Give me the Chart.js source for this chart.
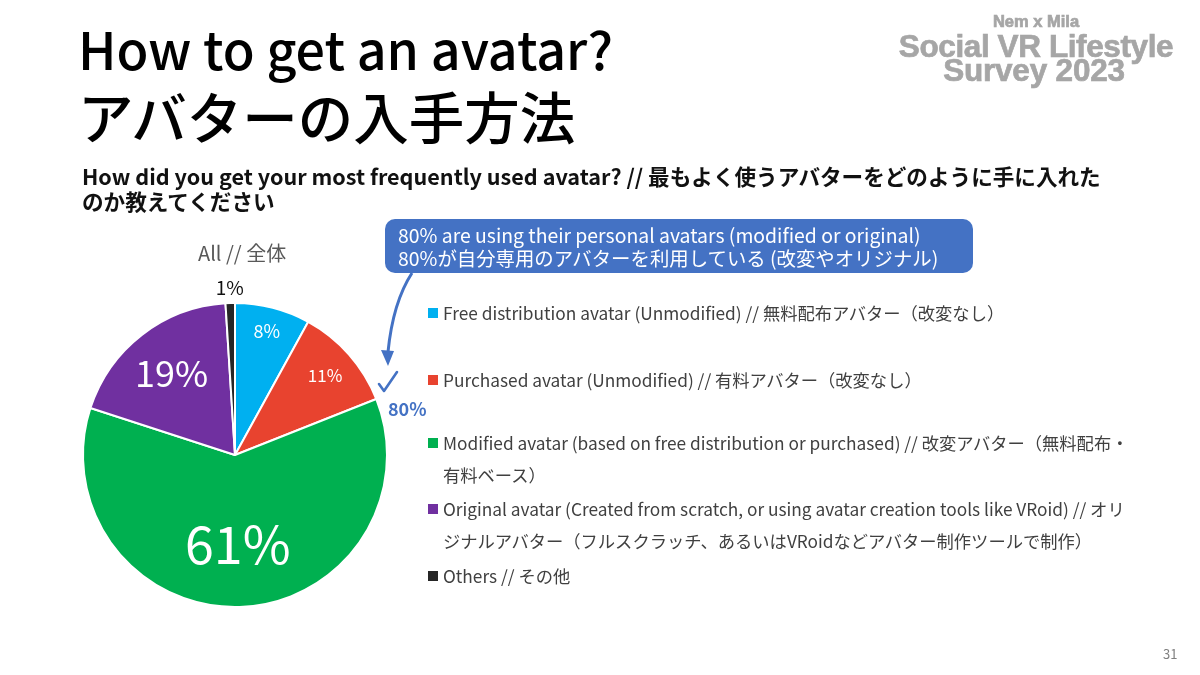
<!DOCTYPE html>
<html>
<head>
<meta charset="utf-8">
<script src="https://cdn.jsdelivr.net/npm/chart.js@4.4.0/dist/chart.umd.min.js"></script>
<style>
    html, body { margin: 0; padding: 0; background: #fff; }
    body { width: 1200px; height: 675px; position: relative; overflow: hidden;
           font-family: "Noto Sans CJK JP", "Noto Sans", sans-serif; }
    #pieChart { position: absolute; left: 0; top: 0; }
    .abs { position: absolute; white-space: nowrap; }
    .logo { position: absolute; width: 320px; left: 876px; text-align: center; color: #a6a6a6;
            font-family: "Liberation Sans", Arial, sans-serif; font-weight: bold; white-space: nowrap;
            -webkit-text-stroke: 0.7px #a6a6a6; }
    .callout { position: absolute; left: 385px; top: 219px; width: 588px; height: 54px;
               background: #4472c4; border-radius: 10px; color: #fff; font-size: 19.4px;
               line-height: 23px; box-sizing: border-box; padding: 4px 0 0 13px; }
    .leg-item { position: absolute; left: 428px; color: #404040; font-size: 17.3px; line-height: 32px; }
    .leg-item .box { position: absolute; left: 0; top: 11px; width: 10px; height: 10px; }
    .leg-item .txt { margin-left: 15px; white-space: nowrap; }
</style>
</head>
<body>
<canvas id="pieChart" width="1200" height="675"></canvas>

<div class="abs" style="left:78px; top:13px; font-size:52px; line-height:70px; font-weight:500; color:#000;">How to get an avatar?</div>
<div class="abs" style="left:78px; top:80px; font-size:55.5px; line-height:70px; font-weight:500; color:#000;">アバターの入手方法</div>
<div class="abs" style="left:82px; top:163px; font-size:21.6px; line-height:25px; font-weight:bold; color:#111;">How did you get your most frequently used avatar? // 最もよく使うアバターをどのように手に入れた<br>のか教えてください</div>

<div class="logo" style="top:10px; font-size:16.5px; line-height:22px;">Nem x Mila</div>
<div class="logo" style="top:30px; font-size:31.5px; line-height:32px; letter-spacing:-0.4px;">Social VR Lifestyle</div>
<div class="logo" style="top:54px; font-size:31.5px; line-height:32px; letter-spacing:-0.2px; left:874px;">Survey 2023</div>

<div class="abs" style="left:198px; top:239px; font-size:20px; line-height:28px; color:#595959;">All // 全体</div>

<div class="callout">80% are using their personal avatars (modified or original)<br>80%が自分専用のアバターを利用している (改変やオリジナル)</div>

<svg class="abs" style="left:0; top:0;" width="1200" height="675">
    <path d="M412,273 Q393,302 388,352" fill="none" stroke="#4472c4" stroke-width="3"/>
    <path d="M381,350 L388,366 L394,351 Z" fill="#4472c4"/>
    <path d="M379,384 L384,391 L397,372" fill="none" stroke="#4472c4" stroke-width="2.6" stroke-linecap="round" stroke-linejoin="round"/>
</svg>
<div class="abs" style="left:388px; top:395px; font-size:18px; line-height:26px; font-weight:bold; color:#4472c4;">80%</div>

<div id="legend"></div>

<div class="abs" style="left:1163px; top:645px; font-size:13px; line-height:18px; color:#7f7f7f;">31</div>

<script>
// categories (legend lines) and answer shares (%)
const categories = [
    ['Free distribution avatar (Unmodified) // 無料配布アバター（改変なし）'],
    ['Purchased avatar (Unmodified) // 有料アバター（改変なし）'],
    ['Modified avatar (based on free distribution or purchased) // 改変アバター（無料配布・', '有料ベース）'],
    ['Original avatar (Created from scratch, or using avatar creation tools like VRoid) // オリ', 'ジナルアバター（フルスクラッチ、あるいはVRoidなどアバター制作ツールで制作）'],
    ['Others // その他']
];
const shares = [8, 11, 61, 19, 1];

// styling kept apart from the data
const sliceColors = ['#00b0f0', '#e8432f', '#00b050', '#7030a0', '#262626'];
const labelRadius = [0.84, 0.79, 0.59, 0.68, 1.1];
const labelFont = [18, 17, 52, 36, 19];
const labelColor = ['#fff', '#fff', '#fff', '#fff', '#111'];
const legendTop = [297, 364, 427, 493, 560];

// Slice labels
const sliceLabels = {
    id: 'sliceLabels',
    afterDatasetsDraw(chart) {
        const ctx = chart.ctx;
        const meta = chart.getDatasetMeta(0);
        meta.data.forEach(function(arc, i) {
            const mid = (arc.startAngle + arc.endAngle) / 2;
            const r = arc.outerRadius * labelRadius[i];
            const x = arc.x + Math.cos(mid) * r;
            const y = arc.y + Math.sin(mid) * r;
            ctx.save();
            ctx.font = labelFont[i] + 'px "Noto Sans CJK JP", sans-serif';
            ctx.fillStyle = labelColor[i];
            ctx.textAlign = 'center';
            ctx.textBaseline = 'middle';
            ctx.fillText(shares[i] + '%', x, y);
            ctx.restore();
        });
    }
};

document.addEventListener('DOMContentLoaded', function() {
    const ctx = document.getElementById('pieChart').getContext('2d');
    new Chart(ctx, {
        type: 'pie',
        data: {
            labels: categories,
            datasets: [{
                data: shares,
                backgroundColor: sliceColors,
                borderColor: '#ffffff',
                borderWidth: 2
            }]
        },
        options: {
            responsive: false,
            animation: false,
            layout: {
                padding: { left: 82, right: 812, top: 302, bottom: 67 }
            },
            plugins: {
                legend: { display: false },
                tooltip: { enabled: false }
            }
        },
        plugins: [sliceLabels]
    });

    // HTML legend built from the same arrays
    const legend = document.getElementById('legend');
    categories.forEach(function(lines, i) {
        const item = document.createElement('div');
        item.className = 'leg-item';
        item.style.top = legendTop[i] + 'px';
        const box = document.createElement('div');
        box.className = 'box';
        box.style.background = sliceColors[i];
        item.appendChild(box);
        lines.forEach(function(line) {
            const t = document.createElement('div');
            t.className = 'txt';
            t.textContent = line;
            item.appendChild(t);
        });
        legend.appendChild(item);
    });
});
</script>
</body>
</html>
